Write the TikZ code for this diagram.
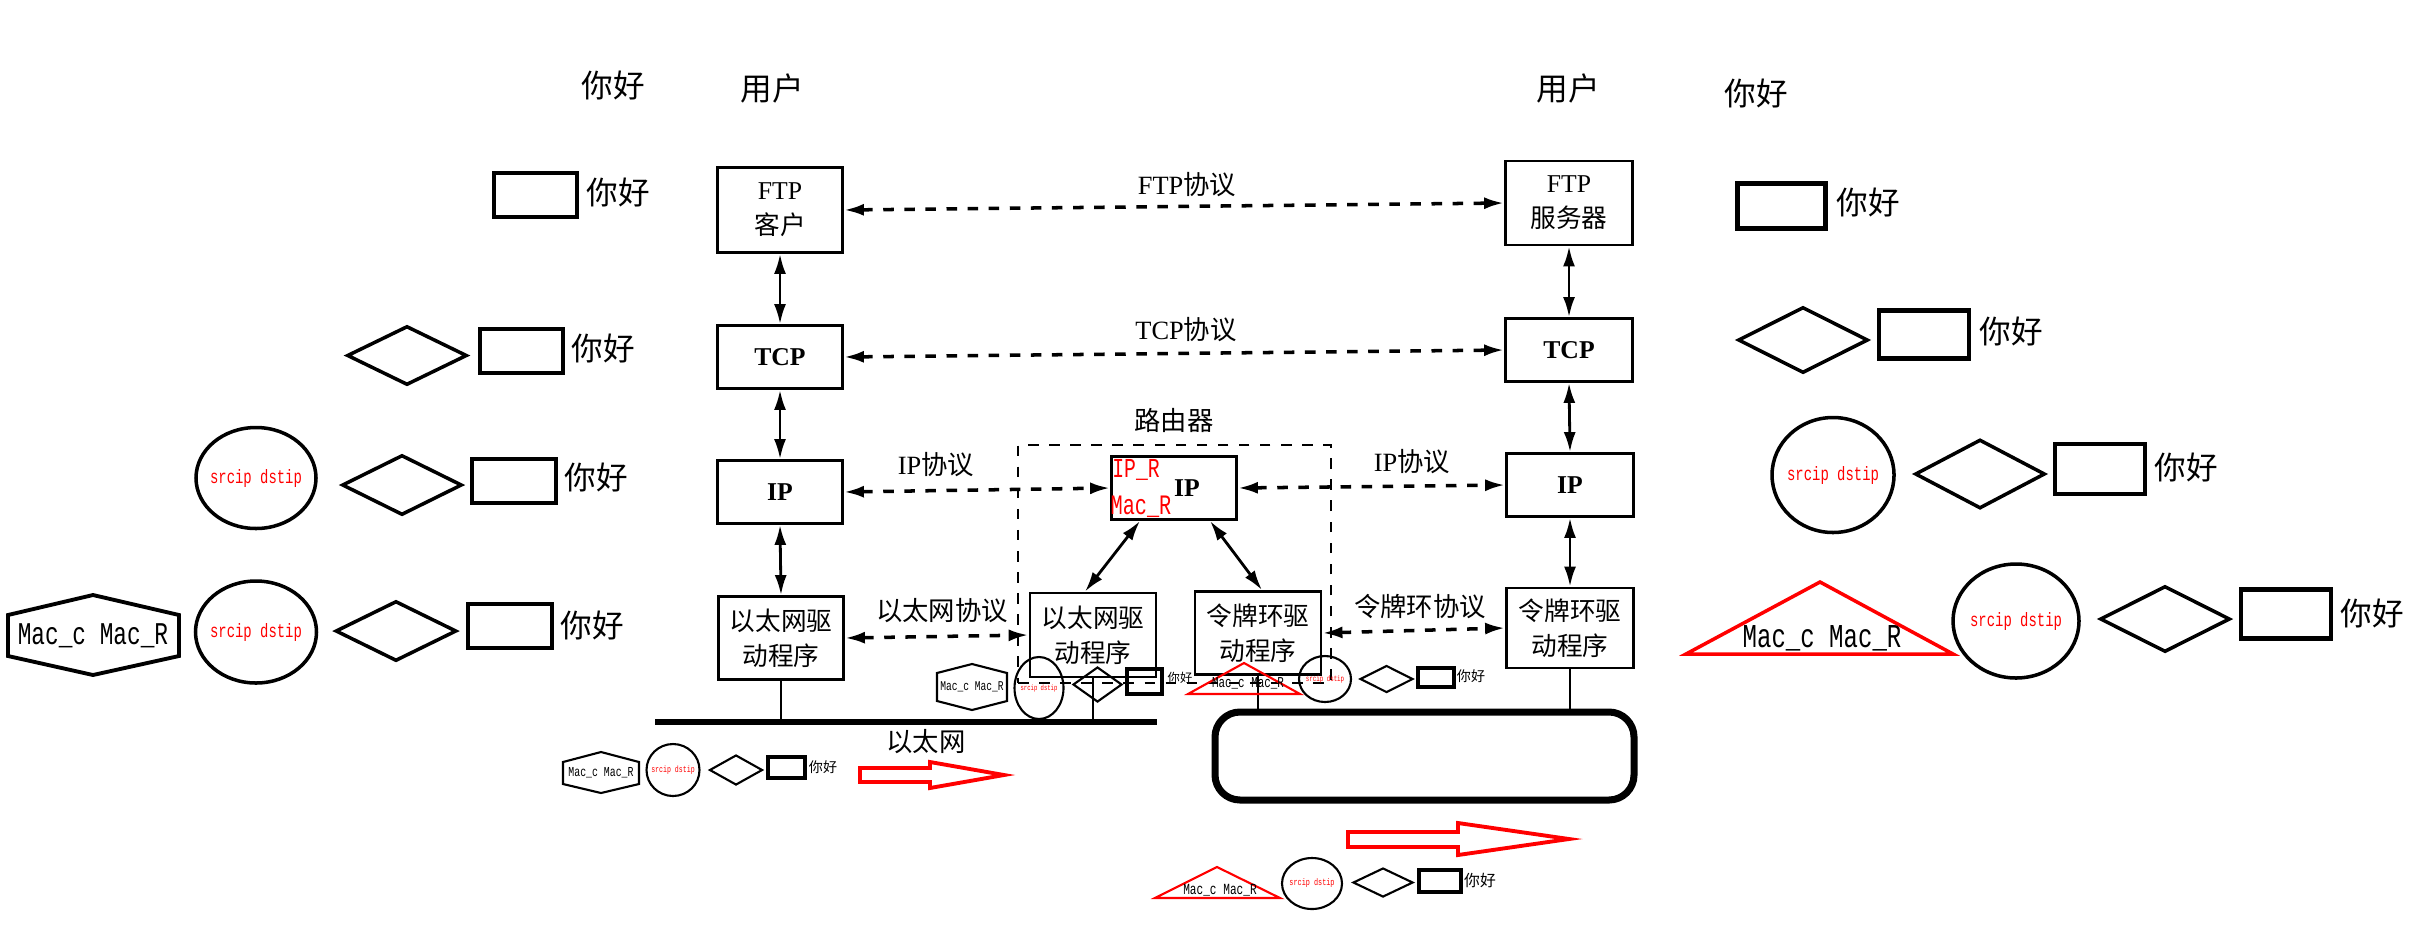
\documentclass[tikz,border=0pt]{standalone}
\usepackage{fontspec}
\setmainfont{Noto Sans CJK SC}
\newfontfamily\lat{Liberation Serif}
\newfontfamily\macfont[FakeStretch=0.72]{Liberation Mono}
\usetikzlibrary{shapes.geometric,positioning,arrows.meta}

\tikzset{
  sz/.style 2 args={minimum width=#1, minimum height=#2},
  layer/.style={draw, line width=0.8pt, fill=white, align=center, inner sep=0pt,
    minimum width=1.25cm, font=\fontsize{7.3}{10}\selectfont},
  proto/.style={dashed, line width=1pt, <->},
  link/.style={line width=0.8pt, <->},
  lbl/.style={inner sep=0pt, font=\fontsize{7.5}{9}\selectfont},
  hi/.style={inner sep=0pt, font=\fontsize{#1}{#1}\selectfont},
  hi/.default=9,
  mac/.style={inner sep=0pt, font=\fontsize{#1}{#1}\macfont},
  tag/.style={draw, line width=1.3pt, inner sep=0pt},
  gem/.style={draw, diamond, line width=1pt, inner sep=0pt},
  oval/.style={draw, ellipse, line width=1pt, inner sep=0pt},
}

\begin{document}
\begin{tikzpicture}[x=0.1mm, y=-0.1mm, >={Latex[length=2mm, width=1.2mm]}]
  \useasboundingbox (0,0) rectangle (2415,934);

  % Headers
  \node[hi] (hiL) at (613,85) {你好};
  \node[hi] (userC) at (772,88) {用户};
  \node[hi] (userS) at (1568,88) {用户};
  \node[hi] (hiR) at (1756,93) {你好};

  % Router frame
  \node[draw, dashed, line width=0.7pt, sz={3.13cm}{2.38cm}] (router) at (1174.5,564) {};
  \node[lbl] (routerL) at (1174,420) {路由器};

  % Client stack
  \node[layer, minimum height=8.5mm] (ftpC) at (780,210) {{\lat FTP}\\客户};
  \node[layer, minimum height=6.3mm] (tcpC) at (780,357) {\lat\bfseries TCP};
  \node[layer, minimum height=6.3mm] (ipC) at (780,492) {\lat\bfseries IP};
  \node[layer, minimum height=8.3mm] (ethC) at (781,638) {以太网驱\\动程序};

  % Server stack
  \node[layer, sz={1.27cm}{8.4mm}] (ftpS) at (1569,203) {{\lat FTP}\\服务器};
  \node[layer, sz={1.27cm}{6.3mm}] (tcpS) at (1569,350) {\lat\bfseries TCP};
  \node[layer, sz={1.27cm}{6.3mm}] (ipS) at (1570,485) {\lat\bfseries IP};
  \node[layer, sz={1.27cm}{8mm}] (tokS) at (1570,628) {令牌环驱\\动程序};

  % Router stack
  \node[layer, minimum height=6.3mm] (ipR) at (1174,488) {\hspace*{2.6mm}\lat\bfseries IP};
  \node[mac=7.8, text=red] (ipRtag) at (1136,470) {IP\_R};
  \node[mac=8, text=red] (macRtag) at (1141,507) {Mac\_R};
  \node[layer, sz={1.26cm}{8.4mm}] (ethR) at (1093,635) {以太网驱\\动程序};
  \node[layer, sz={1.26cm}{8.3mm}] (tokR) at (1258,633) {令牌环驱\\动程序};

  % Media
  \coordinate (busL) at (655,722);
  \coordinate (busR) at (1157,722);
  \draw[line width=1.6pt] (busL) -- (busR);
  \node[lbl] (busT) at (926,742) {以太网};
  \node[draw, line width=2pt, rounded corners=2.5mm, sz={4.19cm}{8.8mm}] (ring) at (1424.5,756) {};
  \draw[line width=0.7pt] (ethC.south) -- (ethC.south |- busL);
  \draw[line width=0.7pt] (ethR.south) -- (ethR.south |- busL);
  \draw[line width=0.7pt] (tokR.south) -- (tokR.south |- ring.north);
  \draw[line width=0.7pt] (tokS.south) -- (tokS.south |- ring.north);

  % Peer protocols
  \foreach \a/\b in {ftpC/ftpS, tcpC/tcpS, ipC/ipR, ipR/ipS, ethC/ethR, tokR/tokS}
    \draw[proto] (\a.east) -- (\b.west);
  \node[lbl] (ftpP) at (1187,185) {{\lat FTP}协议};
  \node[lbl] (tcpP) at (1186,330) {{\lat TCP}协议};
  \node[lbl] (ipPL) at (936,465) {{\lat IP}协议};
  \node[lbl] (ipPR) at (1412,462) {{\lat IP}协议};
  \node[lbl] (ethP) at (942,611) {以太网协议};
  \node[lbl] (tokP) at (1420,607) {令牌环协议};

  % Layer links
  \foreach \a/\b in {ftpC/tcpC, tcpC/ipC, ipC/ethC, ftpS/tcpS, tcpS/ipS, ipS/tokS}
    \draw[link] (\a.south) -- (\b.north);
  \draw[link] ([xshift=-3.4mm]ipR.south) -- ([xshift=-0.8mm]ethR.north);
  \draw[link] ([xshift=3.6mm]ipR.south) -- ([xshift=0.4mm]tokR.north);

  % Red flow arrows
  \draw[red, line width=1.1pt] (860,768) -- (930,768) -- (930,762) -- (1004,775)
    -- (930,788) -- (930,782) -- (860,782) -- cycle;
  \draw[red, line width=1.1pt] (1348,832) -- (1458,832) -- (1458,823) -- (1569,839)
    -- (1458,855) -- (1458,847) -- (1348,847) -- cycle;

  % Left legend
  \node[tag, sz={8.3mm}{4.4mm}] (tagL1) at (535.5,195) {};
  \node[hi] (hiL1) at (618,192) {你好};
  \node[gem, sz={12mm}{5.9mm}] (gemL2) at (407,355.5) {};
  \node[tag, sz={8.3mm}{4.4mm}] (tagL2) at (521.5,351) {};
  \node[hi] (hiL2) at (603,348) {你好};
  \node[oval, sz={12mm}{10.1mm}, label={[mac=5.5, text=red]center:srcip dstip}] (ovL3) at (256,478) {};
  \node[gem, sz={12mm}{6mm}] (gemL3) at (402,485) {};
  \node[tag, sz={8.4mm}{4.4mm}] (tagL3) at (514,481) {};
  \node[hi] (hiL3) at (596,477) {你好};
  \draw[line width=1.1pt] (8,615) -- (93,595) -- (179,615) -- (179,656) -- (93,675) -- (8,656) -- cycle;
  \node[mac=9] (hexL4) at (93,636) {Mac\_c Mac\_R};
  \node[oval, sz={12.1mm}{10.2mm}, label={[mac=5.5, text=red]center:srcip dstip}] (ovL4) at (256,632) {};
  \node[gem, sz={12.1mm}{6mm}] (gemL4) at (396,631) {};
  \node[tag, sz={8.4mm}{4.4mm}] (tagL4) at (510,626) {};
  \node[hi] (hiL4) at (592,625) {你好};

  % Right legend
  \node[tag, sz={8.8mm}{4.5mm}] (tagR1) at (1781.5,206) {};
  \node[hi] (hiR1) at (1868,202) {你好};
  \node[gem, sz={13mm}{6.6mm}] (gemR2) at (1803,340) {};
  \node[tag, sz={9mm}{4.8mm}] (tagR2) at (1924,334.5) {};
  \node[hi] (hiR2) at (2011,331) {你好};
  \node[oval, sz={12.2mm}{11.5mm}, label={[mac=5.5, text=red]center:srcip dstip}] (ovR3) at (1833,475) {};
  \node[gem, sz={13mm}{6.9mm}] (gemR3) at (1980,474) {};
  \node[tag, sz={9mm}{5mm}] (tagR3) at (2100,469) {};
  \node[hi] (hiR3) at (2186,467) {你好};
  \draw[red, line width=1pt] (1686,654) -- (1820,582) -- (1953,654) -- cycle;
  \node[mac=9.5] (triR4) at (1822,638) {Mac\_c Mac\_R};
  \node[oval, sz={12.6mm}{11.4mm}, label={[mac=5.5, text=red]center:srcip dstip}] (ovR4) at (2016,621) {};
  \node[gem, sz={13mm}{6.6mm}] (gemR4) at (2165,619) {};
  \node[tag, sz={9mm}{4.9mm}] (tagR4) at (2286,614) {};
  \node[hi] (hiR4) at (2372,613) {你好};

  % Small packets on the wires
  % below the client
  \draw[line width=0.6pt] (563,762) -- (601,752) -- (639,762) -- (639,784) -- (601,793) -- (563,784) -- cycle;
  \node[mac=3.9] (hexC1) at (601,773) {Mac\_c Mac\_R};
  \node[oval, line width=0.6pt, sz={5.3mm}{5.2mm}, label={[mac=2.6, text=red]center:srcip dstip}] (ovC1) at (673,770) {};
  \node[gem, line width=0.6pt, sz={5.3mm}{3mm}] (gemC1) at (736,770) {};
  \node[tag, line width=0.9pt, sz={3.7mm}{2.1mm}] (tagC1) at (786.5,767.5) {};
  \node[hi=4] (hiC1) at (823,767) {你好};
  % router, ethernet side
  \draw[line width=0.6pt] (937,673) -- (972,664) -- (1007,673) -- (1007,701) -- (972,710) -- (937,701) -- cycle;
  \node[mac=3.8] (hexC2) at (972,687) {Mac\_c Mac\_R};
  \node[oval, line width=0.6pt, sz={4.9mm}{6.2mm}, label={[mac=2.2, text=red]center:srcip dstip}] (ovC2) at (1039,688) {};
  \node[gem, line width=0.6pt, sz={4.9mm}{3.5mm}] (gemC2) at (1097.5,684.5) {};
  \node[tag, line width=0.9pt, sz={3.5mm}{2.5mm}] (tagC2) at (1144.5,681.5) {};
  \node[hi=3.5] (hiC2) at (1180,678) {你好};
  % router, token ring side
  \draw[red, line width=0.6pt] (1188,694) -- (1244,663) -- (1300,694) -- cycle;
  \node[mac=4.3] (triC3) at (1248,683) {Mac\_c Mac\_R};
  \node[oval, line width=0.6pt, sz={5.2mm}{4.6mm}, label={[mac=2.3, text=red]center:srcip dstip}] (ovC3) at (1325,679) {};
  \node[gem, line width=0.6pt, sz={5.3mm}{2.7mm}] (gemC3) at (1386.5,679) {};
  \node[tag, line width=0.9pt, sz={3.6mm}{1.9mm}] (tagC3) at (1436,677.5) {};
  \node[hi=4] (hiC3) at (1471,676) {你好};
  % below the ring
  \draw[red, line width=0.6pt] (1155,898) -- (1217,867) -- (1280,898) -- cycle;
  \node[mac=4.4] (triC4) at (1220,890) {Mac\_c Mac\_R};
  \node[oval, line width=0.6pt, sz={6mm}{5.1mm}, label={[mac=2.7, text=red]center:srcip dstip}] (ovC4) at (1312,883.5) {};
  \node[gem, line width=0.6pt, sz={6mm}{2.9mm}] (gemC4) at (1383,882.5) {};
  \node[tag, line width=0.9pt, sz={4.2mm}{2.2mm}] (tagC4) at (1440,881) {};
  \node[hi=4.5] (hiC4) at (1480,880) {你好};
\end{tikzpicture}
\end{document}
